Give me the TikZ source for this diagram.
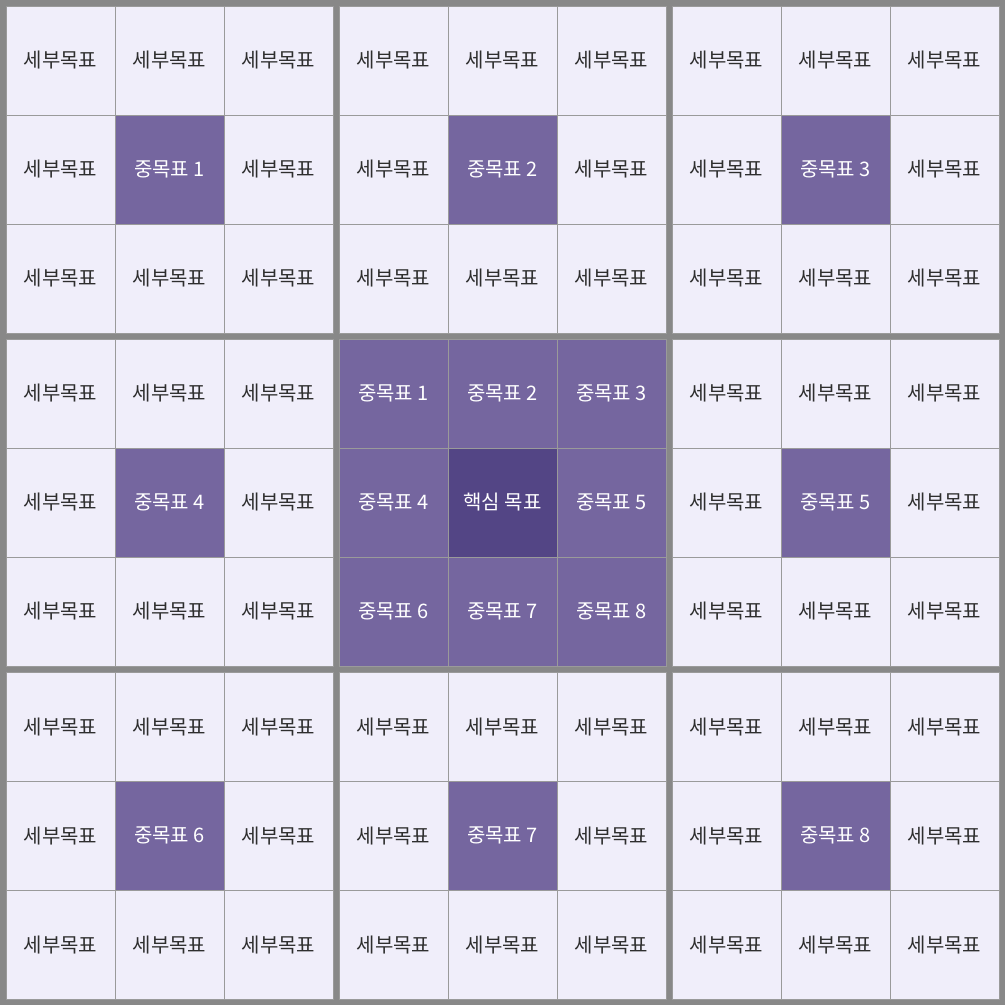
\documentclass[tikz,border=0pt]{standalone}
\usepackage{fontspec}
\setmainfont{Noto Sans CJK KR}
\definecolor{framegray}{HTML}{888888}
\definecolor{linegray}{HTML}{9A9A9A}
\definecolor{cellbg}{HTML}{F0EEFA}
\definecolor{midpurple}{HTML}{75669F}
\definecolor{corepurple}{HTML}{534585}
\definecolor{subtext}{HTML}{2E2E2E}
\tikzset{
  cell/.style={rectangle, draw=linegray, line width=0.7pt, minimum width=109pt, minimum height=109pt, inner sep=0pt, font=\fontsize{20}{22}\selectfont},
  sub/.style={cell, fill=cellbg, text=subtext},
  mid/.style={cell, fill=midpurple, text=white},
  core/.style={cell, fill=corepurple, text=white}
}
\begin{document}
\begin{tikzpicture}[x=1pt, y=-1pt]
	% frame
	\fill[framegray] (0,0) rectangle (1005,1005);
	\useasboundingbox (0,0) rectangle (1005,1005);
	% 9x9 grid
	\foreach \bi in {0,1,2}{
	 \foreach \bj in {0,1,2}{
	  \foreach \ci in {0,1,2}{
	   \foreach \cj in {0,1,2}{
		\pgfmathsetmacro{\cx}{6+\bj*333+\cj*109+54.5}
		\pgfmathsetmacro{\cy}{6+\bi*333+\ci*109+54.5}
		\pgfmathtruncatemacro{\inner}{3*\ci+\cj}
		\pgfmathtruncatemacro{\outer}{3*\bi+\bj}
		\ifnum\outer=4
			\ifnum\inner=4
				\node[core] (c-\bi\bj\ci\cj) at (\cx,\cy) {핵심 목표};
			\else
				\pgfmathtruncatemacro{\k}{\inner<4 ? \inner+1 : \inner}
				\node[mid] (c-\bi\bj\ci\cj) at (\cx,\cy) {중목표 \k};
			\fi
		\else
			\ifnum\inner=4
				\pgfmathtruncatemacro{\k}{\outer<4 ? \outer+1 : \outer}
				\node[mid] (c-\bi\bj\ci\cj) at (\cx,\cy) {중목표 \k};
			\else
				\node[sub] (c-\bi\bj\ci\cj) at (\cx,\cy) {세부목표};
			\fi
		\fi
	   }
	  }
	 }
	}
\end{tikzpicture}
\end{document}
